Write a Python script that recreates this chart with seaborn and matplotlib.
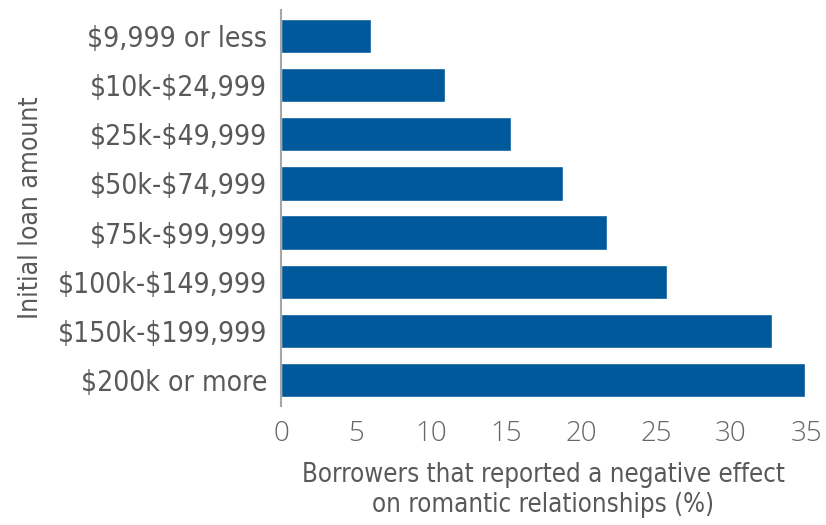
import matplotlib
matplotlib.use("Agg")
import matplotlib.pyplot as plt
import seaborn as sns
import pandas as pd

categories = ["$9,999 or less", "$10k-$24,999", "$25k-$49,999", "$50k-$74,999",
              "$75k-$99,999", "$100k-$149,999", "$150k-$199,999", "$200k or more"]
values = [6.0, 10.9, 15.3, 18.8, 21.7, 25.7, 32.7, 34.9]
xticks = [0, 5, 10, 15, 20, 25, 30, 35]

sns.set_theme(style="white")
plt.rcParams['font.family'] = ['DejaVu Sans']
plt.rcParams['font.stretch'] = 'condensed'
plt.rcParams['text.parse_math'] = False

df = pd.DataFrame({"cat": categories, "val": values})
fig = plt.figure(figsize=(8.26, 5.25), dpi=100)
ax = fig.add_axes([281/826, 1-406/525, 525/826, 396/525])
sns.barplot(data=df, x="val", y="cat", orient="h", color="#00599A", width=0.7,
            saturation=1, ax=ax)
ax.set_xlim(0, 35)
ax.set_ylim(7.53, -0.53)
ax.set_xticks(xticks)
ax.set_xticklabels([str(t) for t in xticks], family=["Open Sans", "DejaVu Sans"],
                   fontsize=20, color="#666666", fontweight="light", fontstretch="normal")
ax.tick_params(axis="x", length=0, pad=10)
ax.tick_params(axis="y", length=0, pad=10, labelsize=20.3, labelcolor="#595959")
for s in ["top", "right", "bottom"]:
    ax.spines[s].set_visible(False)
ax.spines["left"].set_color("#A6A6A6")
ax.spines["left"].set_linewidth(1.5)
ax.set_xlabel("Borrowers that reported a negative effect\non romantic relationships (%)",
              fontsize=18.5, color="#595959", labelpad=10, linespacing=1.2)
ax.set_ylabel("Initial loan amount", fontsize=19, color="#595959", labelpad=10)
fig.savefig("out.png", dpi=100)
